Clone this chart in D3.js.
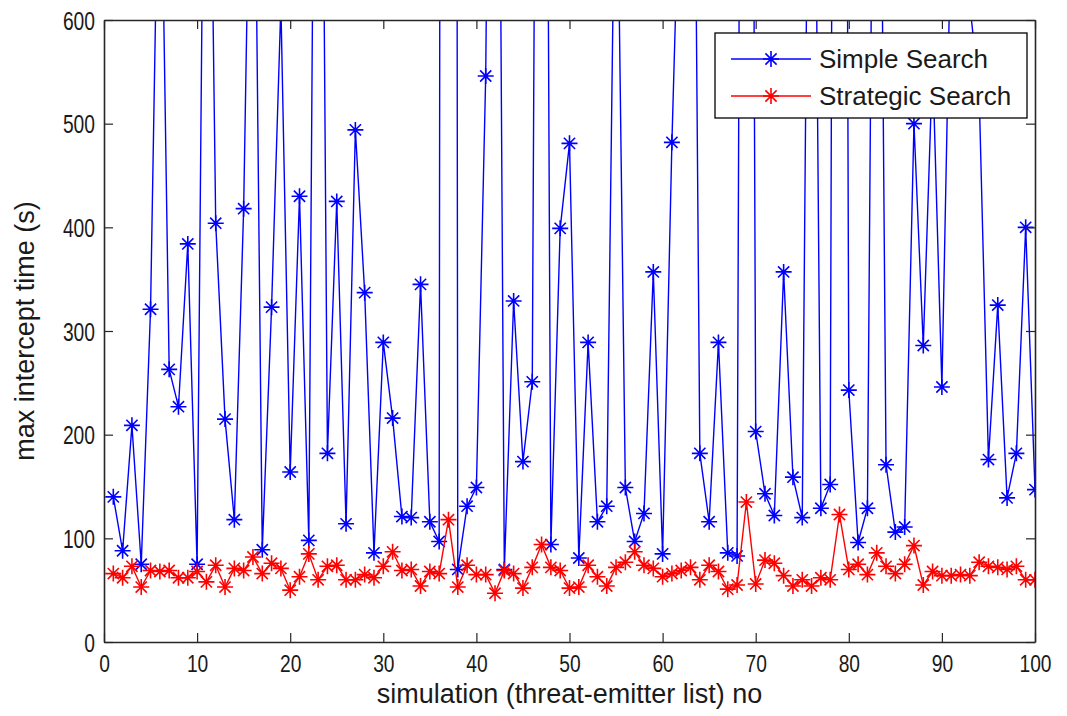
<!DOCTYPE html>
<meta charset="utf-8">
<style>
  body { margin: 0; background: #fff; }
  svg { font-family: "Liberation Sans", Arial, sans-serif; }
  .tick text { font-size: 26px; fill: #1a1a1a; }
  .tick line { stroke: #262626; stroke-width: 1.2; }
  .domain { stroke: #262626; stroke-width: 1.6; }
</style>
<body>
<div id="chart"></div>
<script src="https://d3js.org/d3.v7.min.js"></script>
<script>

// simulation number 1..100
var sims = d3.range(1, 101);

// simple search: values above 600 run off the top of the plot
var simpleSearch = [140, 88, 209, 75, 321, 850, 263, 227, 384, 75,
  1100, 404, 215, 118, 418, 950, 89, 323, 615, 164,
  430, 98, 1400, 182, 425, 114, 494, 337, 86, 289,
  216, 121, 120, 345, 116, 97, 8000, 70, 131, 149,
  546, 1500, 70, 329, 174, 251, 2000, 94, 399, 481,
  81, 289, 116, 131, 850, 149, 97, 124, 357, 85,
  482, 800, 1300, 182, 116, 289, 86, 83, 2500, 203,
  143, 122, 357, 159, 120, 1200, 129, 152, 3000, 243,
  96, 129, 1300, 171, 106, 111, 500, 286, 560, 246,
  705, 720, 615, 530, 176, 325, 139, 182, 400, 147];

// strategic search
var strategicSearch = [66, 62, 73, 53, 69, 68, 69, 62, 62, 68,
  58, 74, 53, 71, 69, 82, 66, 76, 71, 50,
  63, 85, 60, 73, 74, 60, 60, 65, 62, 73,
  87, 69, 70, 54, 68, 66, 118, 53, 74, 65,
  65, 47, 69, 66, 52, 72, 94, 72, 69, 52,
  53, 74, 63, 54, 72, 77, 87, 74, 71, 63,
  66, 69, 72, 60, 74, 68, 51, 55, 135, 56,
  79, 76, 64, 54, 60, 54, 62, 60, 123, 70,
  75, 65, 86, 73, 66, 75, 93, 55, 68, 64,
  64, 65, 64, 77, 73, 72, 70, 73, 60, 60];

var xTicks = d3.range(0, 101, 10);
var yTicks = d3.range(0, 601, 100);

var series = [
  {name: "Simple Search", color: "#0000ff", values: simpleSearch},
  {name: "Strategic Search", color: "#ff0000", values: strategicSearch}
];

var margin = {top: 20, right: 32, bottom: 74, left: 104},
  width = 1067 - margin.left - margin.right,
  height = 716 - margin.top - margin.bottom;

var svg = d3.select("#chart").append("svg")
  .attr("width", 1067)
  .attr("height", 716);

var g = svg.append("g")
  .attr("transform", "translate(" + margin.left + "," + margin.top + ")");

var x = d3.scaleLinear().domain([0, 100]).range([0, width]);
var y = d3.scaleLinear().domain([0, 600]).range([height, 0]);

g.append("clipPath").attr("id", "clip")
  .append("rect").attr("width", width).attr("height", height);

// star marker like matlab '*'
function star(s) {
  var d = s * 0.7;
  return "M" + (-s) + ",0H" + s + "M0," + (-s) + "V" + s +
    "M" + (-d) + "," + (-d) + "L" + d + "," + d +
    "M" + (-d) + "," + d + "L" + d + "," + (-d);
}

var line = d3.line()
  .x(function(d, i) { return x(sims[i]); })
  .y(function(d) { return y(d); });

var plot = g.append("g").attr("clip-path", "url(#clip)");

series.forEach(function(s) {
  plot.append("path")
    .attr("d", line(s.values))
    .attr("fill", "none")
    .attr("stroke", s.color)
    .attr("stroke-width", 1.4);

  plot.selectAll(null)
    .data(s.values)
    .enter().append("path")
    .attr("transform", function(d, i) { return "translate(" + x(sims[i]) + "," + y(d) + ")"; })
    .attr("d", star(8))
    .attr("fill", "none")
    .attr("stroke", s.color)
    .attr("stroke-width", 1.6);
});

// axes with inward ticks on all four sides
var xAxis = g.append("g")
  .attr("transform", "translate(0," + height + ")")
  .call(d3.axisBottom(x).tickValues(xTicks).tickSize(-9).tickSizeOuter(0).tickPadding(12));
xAxis.selectAll(".tick text")
  .style("font-size", "24px")
  .attr("dy", null).attr("y", 30)
  .attr("transform", "scale(0.8,1)");

var yAxis = g.append("g")
  .call(d3.axisLeft(y).tickValues(yTicks).tickSize(-9).tickSizeOuter(0).tickPadding(10));
yAxis.selectAll(".tick text")
  .attr("x", -9 / 0.74)
  .attr("dy", "0.35em")
  .attr("transform", "scale(0.74,1)");

g.append("g")
  .call(d3.axisTop(x).tickValues(xTicks).tickSize(-9).tickSizeOuter(0).tickFormat(""));

g.append("g")
  .attr("transform", "translate(" + width + ",0)")
  .call(d3.axisRight(y).tickValues(yTicks).tickSize(-9).tickSizeOuter(0).tickFormat(""));

// axis titles
svg.append("text")
  .attr("x", margin.left + width / 2)
  .attr("y", 703)
  .attr("text-anchor", "middle")
  .style("font-size", "27px")
  .style("fill", "#1a1a1a")
  .text("simulation (threat-emitter list) no");

svg.append("text")
  .attr("transform", "translate(34," + (margin.top + height / 2) + ") rotate(-90)")
  .attr("text-anchor", "middle")
  .style("font-size", "27px")
  .style("fill", "#1a1a1a")
  .text("max intercept time (s)");

// legend
var legend = svg.append("g").attr("transform", "translate(715,33)");
legend.append("rect")
  .attr("width", 312).attr("height", 85)
  .attr("fill", "#fff").attr("stroke", "#000").attr("stroke-width", 1.3);

series.forEach(function(s, i) {
  var ly = 26 + i * 37;
  legend.append("line")
    .attr("x1", 16).attr("x2", 96).attr("y1", ly).attr("y2", ly)
    .attr("stroke", s.color).attr("stroke-width", 1.4);
  legend.append("path")
    .attr("transform", "translate(56," + ly + ")")
    .attr("d", star(8))
    .attr("fill", "none").attr("stroke", s.color).attr("stroke-width", 1.6);
  legend.append("text")
    .attr("x", 104).attr("y", ly + 9)
    .style("font-size", "26px")
    .style("fill", "#1a1a1a")
    .text(s.name);
});

</script>
